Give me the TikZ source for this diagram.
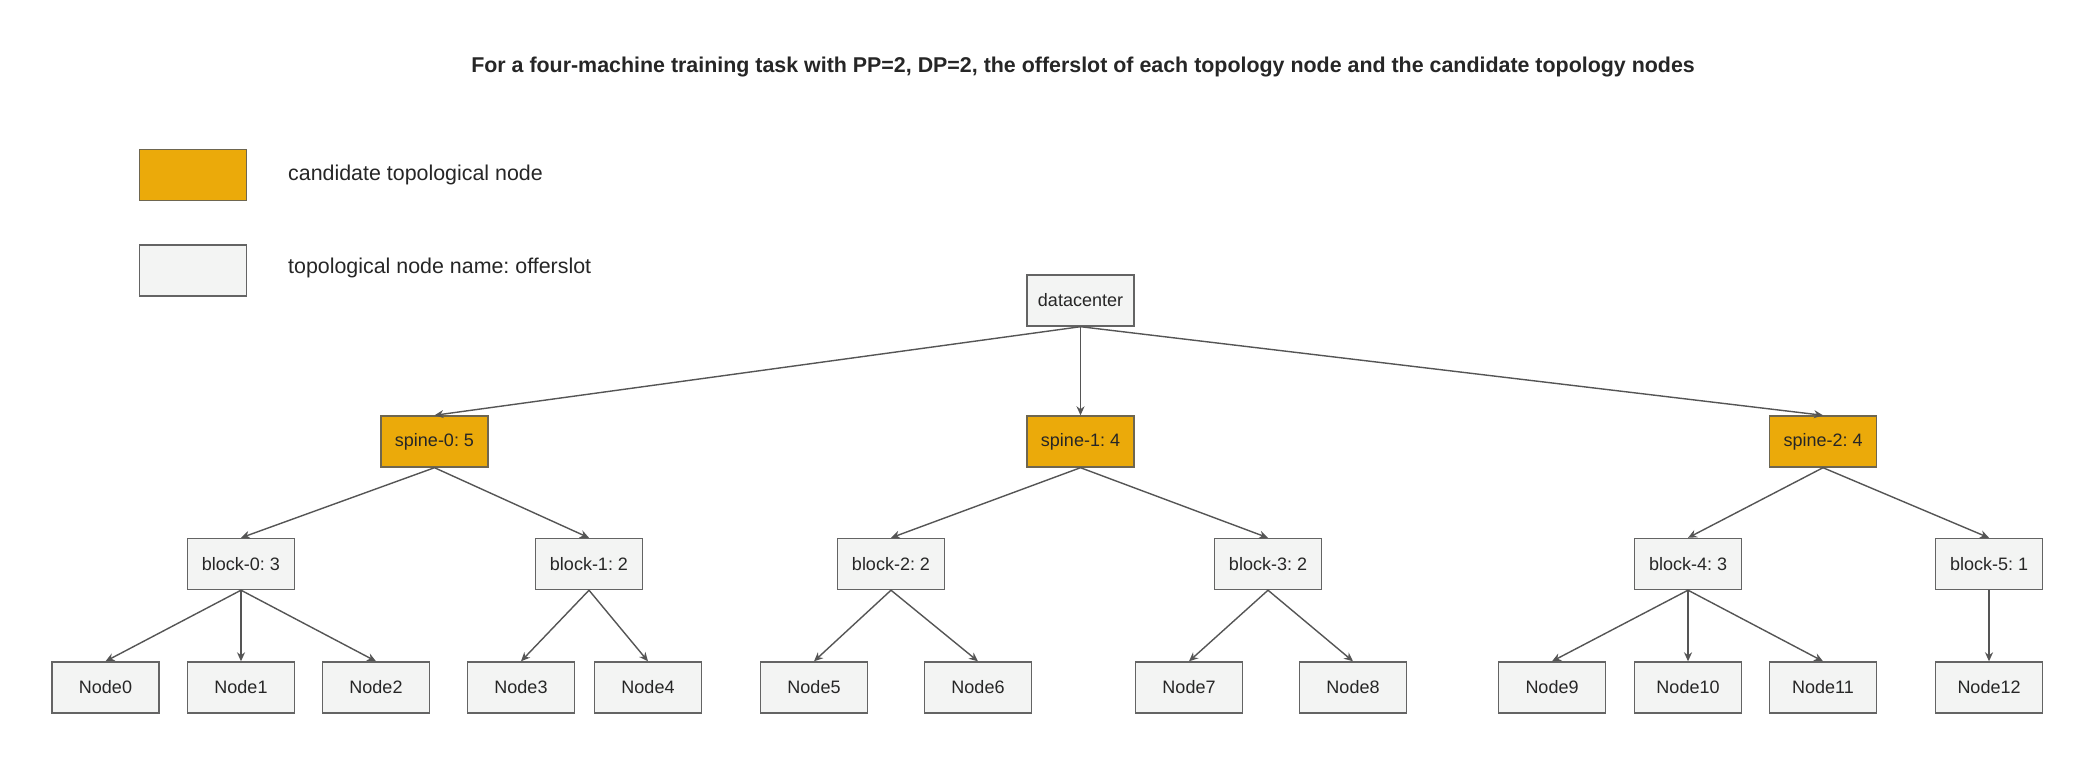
\documentclass[tikz,border=0pt]{standalone}
\usepackage{fontspec}
\setmainfont{Liberation Sans}
\usepackage{tikz}
\usetikzlibrary{arrows.meta}
\frenchspacing

\definecolor{candfill}{RGB}{235,170,10}
\definecolor{candline}{RGB}{110,102,80}
\definecolor{topofill}{RGB}{243,244,243}
\definecolor{topoline}{RGB}{100,100,100}
\definecolor{arrline}{RGB}{85,85,85}

\begin{document}
\begin{tikzpicture}[
    x=1pt,y=-1pt,
    topo/.style={draw=topoline,fill=topofill,line width=1.4pt,minimum width=107pt,minimum height=51pt,inner sep=0pt,font=\fontsize{18}{22}\selectfont,text=black!85},
    cand/.style={topo,draw=candline,fill=candfill},
    legtext/.style={anchor=west,inner sep=0pt,font=\fontsize{21.4}{25}\selectfont,text=black!85},
    arr/.style={-{Stealth[length=9pt,width=8pt]},line width=1.4pt,draw=arrline}
  ]
    \useasboundingbox[fill=white] (0,0) rectangle (2100,776);

    % title
    \node[font=\fontsize{21.4}{26}\selectfont\bfseries,text=black!85] (title) at (1083,67)
      {For a four-machine training task with PP=2, DP=2, the offerslot of each topology node and the candidate topology nodes};

    % legend
    \node[cand] (legcand) at (193,175) {};
    \node[topo] (legtopo) at (193,270.5) {};
    \node[legtext] (legcandtext) at (288,175) {candidate topological node};
    \node[legtext] (legtopotext) at (288,268) {topological node name: offerslot};

    % tree
    \node[topo] (dc) at (1080.5,300.5) {datacenter};

    \node[cand] (spine0) at (434.5,441.5) {spine-0: 5};
    \node[cand] (spine1) at (1080.5,441.5) {spine-1: 4};
    \node[cand] (spine2) at (1823,441.5) {spine-2: 4};

    \node[topo] (block0) at (241,564) {block-0: 3};
    \node[topo] (block1) at (589,564) {block-1: 2};
    \node[topo] (block2) at (891,564) {block-2: 2};
    \node[topo] (block3) at (1268,564) {block-3: 2};
    \node[topo] (block4) at (1688,564) {block-4: 3};
    \node[topo] (block5) at (1989,564) {block-5: 1};

    \node[topo] (node0) at (105.5,687.5) {Node0};
    \node[topo] (node1) at (241,687.5) {Node1};
    \node[topo] (node2) at (376,687.5) {Node2};
    \node[topo] (node3) at (521,687.5) {Node3};
    \node[topo] (node4) at (648,687.5) {Node4};
    \node[topo] (node5) at (814,687.5) {Node5};
    \node[topo] (node6) at (978,687.5) {Node6};
    \node[topo] (node7) at (1189,687.5) {Node7};
    \node[topo] (node8) at (1353,687.5) {Node8};
    \node[topo] (node9) at (1552,687.5) {Node9};
    \node[topo] (node10) at (1688,687.5) {Node10};
    \node[topo] (node11) at (1823,687.5) {Node11};
    \node[topo] (node12) at (1989,687.5) {Node12};

    \draw[arr] (dc.south) -- (spine0.north);
    \draw[arr] (dc.south) -- (spine1.north);
    \draw[arr] (dc.south) -- (spine2.north);

    \draw[arr] (spine0.south) -- (block0.north);
    \draw[arr] (spine0.south) -- (block1.north);
    \draw[arr] (spine1.south) -- (block2.north);
    \draw[arr] (spine1.south) -- (block3.north);
    \draw[arr] (spine2.south) -- (block4.north);
    \draw[arr] (spine2.south) -- (block5.north);

    \draw[arr] (block0.south) -- (node0.north);
    \draw[arr] (block0.south) -- (node1.north);
    \draw[arr] (block0.south) -- (node2.north);
    \draw[arr] (block1.south) -- (node3.north);
    \draw[arr] (block1.south) -- (node4.north);
    \draw[arr] (block2.south) -- (node5.north);
    \draw[arr] (block2.south) -- (node6.north);
    \draw[arr] (block3.south) -- (node7.north);
    \draw[arr] (block3.south) -- (node8.north);
    \draw[arr] (block4.south) -- (node9.north);
    \draw[arr] (block4.south) -- (node10.north);
    \draw[arr] (block4.south) -- (node11.north);
    \draw[arr] (block5.south) -- (node12.north);
  \end{tikzpicture}
\end{document}
